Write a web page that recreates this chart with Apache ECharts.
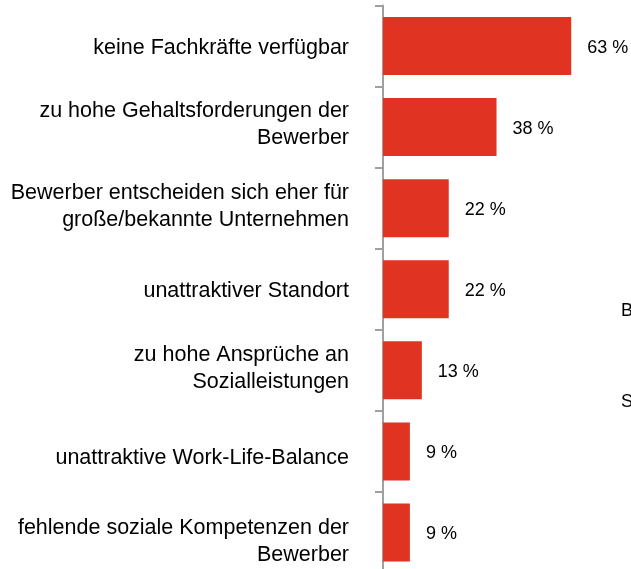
<!DOCTYPE html>
<html><head><meta charset="utf-8">
<script src="https://cdn.jsdelivr.net/npm/echarts@6/dist/echarts.min.js"></script>
<style>html,body{margin:0;padding:0;background:#fff;overflow:hidden}#c{width:631px;height:573px}</style>
</head><body><div id="c"></div>
<script>
const categories = [
  "keine Fachkräfte verfügbar",
  "zu hohe Gehaltsforderungen der\nBewerber",
  "Bewerber entscheiden sich eher für\ngroße/bekannte Unternehmen",
  "unattraktiver Standort",
  "zu hohe Ansprüche an\nSozialleistungen",
  "unattraktive Work-Life-Balance",
  "fehlende soziale Kompetenzen der\nBewerber"
];
const values = [63, 38, 22, 22, 13, 9, 9];
const clippedTexts = ["B", "S"];

// vertical nudges of the category labels (style, px; + = down)
const labelShift = [2, -3, -2, 2, -2, 7, 9];

const FONT = '"Liberation Sans", Arial, sans-serif';
const FS = 21.5, LH = 27;
const rich = {t: {fontFamily: FONT, fontSize: FS, lineHeight: LH, color: '#000'}};
labelShift.forEach((s, i) => {
  rich['g' + i] = {fontSize: 1, lineHeight: Math.max(1, Math.abs(s) * 2)};
});

const chart = echarts.init(document.getElementById('c'), null, {renderer: 'canvas'});
chart.setOption({
  animation: false,
  grid: {left: 383, top: 5.5, right: 0, bottom: 0, containLabel: false},
  xAxis: {type: 'value', min: 0, max: 83, show: false},
  yAxis: {
    type: 'category', data: categories, inverse: true,
    axisLine: {show: true, lineStyle: {color: '#a0a0a0', width: 2}},
    axisTick: {show: true, length: 8, lineStyle: {color: '#a0a0a0', width: 2}},
    axisLabel: {
      margin: 34, align: 'right', rich: rich,
      formatter: function (v, i) {
        const body = v.split('\n').map(l => '{t|' + l + '}').join('\n');
        const s = labelShift[i] || 0;
        if (s > 0) return '{g' + i + '| }\n' + body;
        if (s < 0) return body + '\n{g' + i + '| }';
        return body;
      }
    },
    splitLine: {show: false}
  },
  series: [{
    type: 'bar', data: values, barWidth: 58,
    itemStyle: {color: '#e03322'},
    label: {show: true, position: 'right', distance: 16, offset: [0, 2], formatter: '{c} %', color: '#000', fontFamily: FONT, fontSize: 18}
  }],
  graphic: [
    {type: 'text', left: 621, top: 302, style: {text: clippedTexts[0], font: '18px ' + FONT, fill: '#000'}},
    {type: 'text', left: 621, top: 393, style: {text: clippedTexts[1], font: '18px ' + FONT, fill: '#000'}}
  ]
});
</script></body></html>
